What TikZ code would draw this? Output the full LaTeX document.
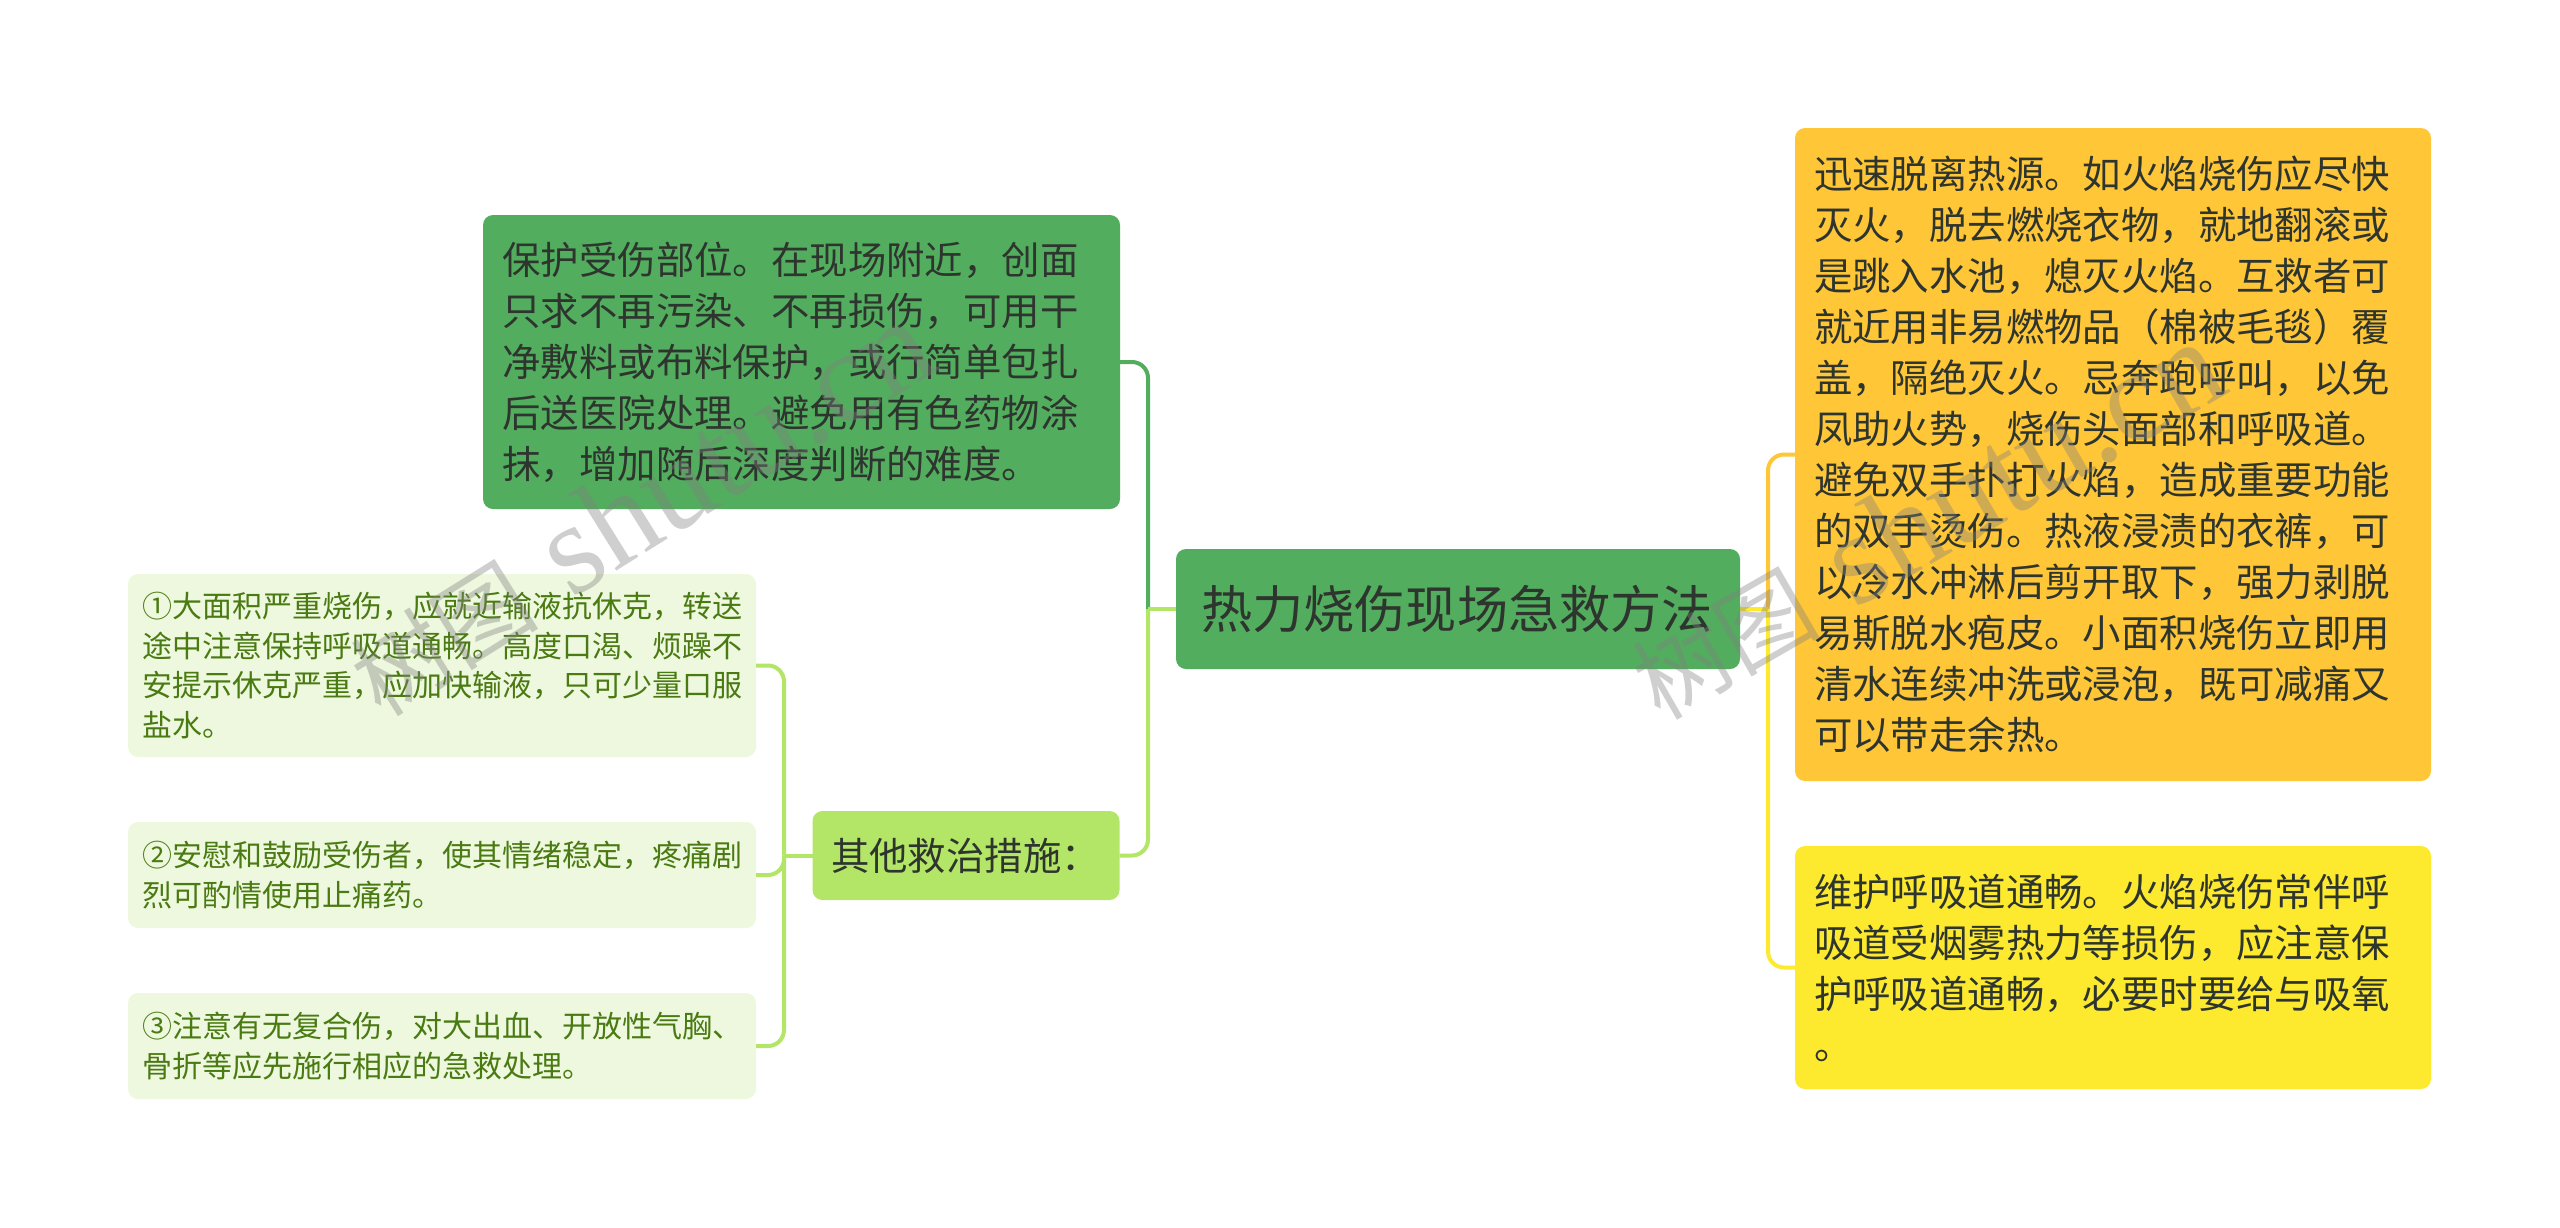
\documentclass[tikz,border=0pt]{standalone}
\usepackage{xcolor}
\usepackage{fontspec}
\usepackage{tikz}
\usetikzlibrary{positioning}
\newfontfamily\cjk{Noto Sans CJK SC}
\newfontfamily\markfont{Liberation Serif}
\definecolor{rootgreen}{HTML}{52AE5E}
\definecolor{limegreen}{HTML}{B3E566}
\definecolor{palegreen}{HTML}{EEF8DE}
\definecolor{amber}{HTML}{FFC637}
\definecolor{lemon}{HTML}{FDEA2F}
\definecolor{inkdark}{HTML}{2E352E}
\definecolor{inkleaf}{HTML}{4A7A12}
% full-width punctuation
\newcommand{\zc}{\char"FF0C\relax}
\newcommand{\zs}{\char"FF1A\relax}
\newcommand{\zl}{\char"FF08\relax}
\newcommand{\zr}{\char"FF09\relax}
\newcommand{\marktext}{{\cjk\fontsize{47}{60}\selectfont 树图}\hspace{18pt}{\markfont\fontsize{65}{60}\selectfont shutu.cn}}

\begin{document}
\begin{tikzpicture}[
    x=0.5pt, y=-0.5pt,
    box/.style={rectangle, rounded corners=5pt, inner sep=0pt, outer sep=0pt, align=left, text=inkdark, font=\cjk\fontsize{19.2}{25.5}\selectfont, text width=299pt},
    leaf/.style={box, fill=palegreen, text=inkleaf, minimum width=314pt, text width=300pt, font=\cjk\fontsize{15}{19.8}\selectfont},
    link/.style={line width=2pt, rounded corners=8pt},
    wmark/.style={text=gray, opacity=0.38}
]
\useasboundingbox (0,0) rectangle (2560,1227);

% Root
\node[box, fill=rootgreen, minimum width=282pt, minimum height=60pt, text width=257pt, font=\cjk\fontsize{25.6}{30}\selectfont] (root) at (1458,609) {热力烧伤现场急救方法};

% Left branches
\node[box, fill=rootgreen, minimum width=318.5pt, minimum height=147pt] (protect) at (801.5,362) {保护受伤部位。在现场附近\zc 创面\\只求不再污染、不再损伤\zc 可用干\\净敷料或布料保护\zc 或行简单包扎\\后送医院处理。避免用有色药物涂\\抹\zc 增加随后深度判断的难度。};
\node[box, fill=limegreen, minimum width=153.5pt, minimum height=44.5pt, text width=135pt] (other) at (966,855.5) {其他救治措施\zs};

% Leaves of the lime branch
\node[leaf, minimum height=91.5pt] (shock) at (442,665.5) {①大面积严重烧伤\zc 应就近输液抗休克\zc 转送\\途中注意保持呼吸道通畅。高度口渴、烦躁不\\安提示休克严重\zc 应加快输液\zc 只可少量口服\\盐水。};
\node[leaf, minimum height=53pt, below=32.5pt of shock] (calm) {②安慰和鼓励受伤者\zc 使其情绪稳定\zc 疼痛剧\\烈可酌情使用止痛药。};
\node[leaf, minimum height=53pt, below=32.5pt of calm] (injury) {③注意有无复合伤\zc 对大出血、开放性气胸、\\骨折等应先施行相应的急救处理。};

% Right branches
\node[box, fill=amber, minimum width=318pt, minimum height=326.5pt] (escape) at (2113,454.5) {迅速脱离热源。如火焰烧伤应尽快\\灭火\zc 脱去燃烧衣物\zc 就地翻滚或\\是跳入水池\zc 熄灭火焰。互救者可\\就近用非易燃物品\zl 棉被毛毯\zr 覆\\盖\zc 隔绝灭火。忌奔跑呼叫\zc 以免\\凤助火势\zc 烧伤头面部和呼吸道。\\避免双手扑打火焰\zc 造成重要功能\\的双手烫伤。热液浸渍的衣裤\zc 可\\以冷水冲淋后剪开取下\zc 强力剥脱\\易斯脱水疱皮。小面积烧伤立即用\\清水连续冲洗或浸泡\zc 既可减痛又\\可以带走余热。};
\node[box, fill=lemon, minimum width=318pt, minimum height=121.5pt, below=32.5pt of escape] (airway) {维护呼吸道通畅。火焰烧伤常伴呼\\吸道受烟雾热力等损伤\zc 应注意保\\护呼吸道通畅\zc 必要时要给与吸氧\\。};

% Junctions
\coordinate (lbus) at (1148,609);
\coordinate (rbus) at (1768,609);
\coordinate (tbus) at (784,855.5);

% Connectors
\draw[link, rootgreen] (protect.east) -| (lbus);
\draw[link, limegreen] (other.east) -| (lbus);
\draw[link, limegreen] (lbus) -- (root.west);
\draw[link, limegreen] (shock.east) -| (tbus);
\draw[link, limegreen] (calm.east) -| (tbus);
\draw[link, limegreen] (injury.east) -| (tbus);
\draw[link, limegreen] (tbus) -- (other.west);
\draw[link, amber] (escape.west) -| (rbus);
\draw[link, lemon] (airway.west) -| (rbus);
\draw[link, lemon] (rbus) -- (root.east);

% Watermarks
\node[wmark, rotate=32] (markleft) at (640,508) {\marktext};
\node[wmark, rotate=30] (markright) at (1926,520) {\marktext};

\end{tikzpicture}
\end{document}
